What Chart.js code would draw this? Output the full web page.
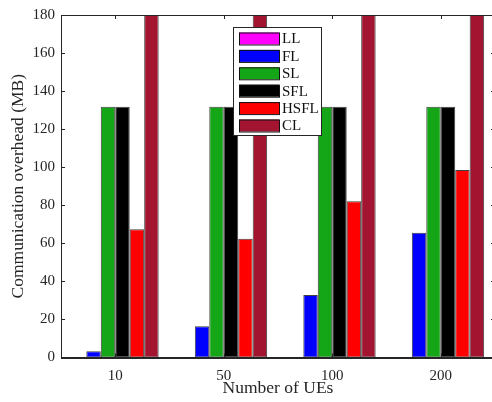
<!DOCTYPE html>
<html>
<head>
<meta charset="utf-8">
<script src="https://cdn.jsdelivr.net/npm/chart.js@4.4.1/dist/chart.umd.min.js"></script>
<style>
  html, body { margin: 0; padding: 0; background: #fff; }
  #wrap { width: 492px; height: 402px; overflow: hidden; }
</style>
</head>
<body>
<!-- canvas runs a few px past the right edge so the frame's right side is cut off -->
<div id="wrap"><canvas id="overheadChart" width="496" height="402"></canvas></div>
<script>
const ues = ["10", "50", "100", "200"];

const llData = [0.2, 0.2, 0.2, 0.2];
const flData = [3.3, 16.4, 32.8, 65.6];
const slData = [131.8, 131.8, 131.8, 131.8];
const sflData = [131.8, 131.8, 131.8, 131.8];
const hsflData = [67.4, 62.4, 82.1, 98.6];
const clData = [200, 200, 200, 200];

const serif = "'Liberation Serif', 'Times New Roman', serif";
const axisColor = "#262626";

// inward tick marks on all four sides plus the box frame
const boxTicks = {
  id: "boxTicks",
  afterDatasetsDraw(chart) {
    const { ctx, chartArea: a, scales } = chart;
    const len = 4;
    ctx.save();
    ctx.strokeStyle = axisColor;
    ctx.lineWidth = 1;
    ctx.beginPath();
    scales.y.ticks.forEach((t) => {
      const y = Math.round(scales.y.getPixelForValue(t.value)) + 0.5;
      ctx.moveTo(a.left, y);
      ctx.lineTo(a.left + len, y);
      ctx.moveTo(a.right, y);
      ctx.lineTo(a.right - len, y);
    });
    ues.forEach((_, i) => {
      const x = Math.round(scales.x.getPixelForTick(i)) + 0.5;
      ctx.moveTo(x, a.top);
      ctx.lineTo(x, a.top + len);
      ctx.moveTo(x, a.bottom);
      ctx.lineTo(x, a.bottom - len);
    });
    ctx.stroke();
    ctx.strokeRect(Math.round(a.left) + 0.5, Math.round(a.top) + 0.5,
      Math.round(a.right - a.left), Math.round(a.bottom - a.top));
    ctx.restore();
  },
};

// legend box sitting inside the plot
const boxLegend = {
  id: "boxLegend",
  afterDraw(chart, args, opts) {
    const { ctx } = chart;
    const sets = chart.data.datasets;
    ctx.save();
    ctx.fillStyle = "#fff";
    ctx.fillRect(opts.x, opts.y, opts.w, opts.h);
    ctx.strokeStyle = axisColor;
    ctx.lineWidth = 1;
    ctx.strokeRect(opts.x + 0.5, opts.y + 0.5, opts.w, opts.h);
    ctx.font = "15px " + serif;
    ctx.textBaseline = "middle";
    sets.forEach((ds, i) => {
      const cy = opts.y + opts.first + i * opts.step;
      ctx.fillStyle = ds.backgroundColor;
      ctx.fillRect(opts.x + 6, cy - 6, 40, 12);
      ctx.strokeStyle = "#111";
      ctx.strokeRect(opts.x + 6.5, cy - 5.5, 40, 12);
      ctx.fillStyle = "#111";
      ctx.fillText(ds.label, opts.x + 49, cy + 1);
    });
    ctx.restore();
  },
};

function barSet(label, data, color) {
  return {
    label: label,
    data: data,
    backgroundColor: color,
    borderColor: "rgba(30,30,30,0.85)",
    borderWidth: 1,
    borderSkipped: false,
    categoryPercentage: 0.8,
    barPercentage: 1.0,
  };
}

const chart = new Chart(document.getElementById("overheadChart"), {
  type: "bar",
  data: {
    labels: ues,
    datasets: [
      barSet("LL", llData, "#FF00FF"),
      barSet("FL", flData, "#0000FF"),
      barSet("SL", slData, "#15A617"),
      barSet("SFL", sflData, "#000000"),
      barSet("HSFL", hsflData, "#FF0000"),
      barSet("CL", clData, "#A2142F"),
    ],
  },
  options: {
    responsive: false,
    animation: false,
    layout: { padding: { top: 15, right: 1, left: 0, bottom: 0 } },
    plugins: {
      legend: { display: false },
      tooltip: { enabled: false },
      boxLegend: { x: 233, y: 27, w: 88, h: 108, first: 11.5, step: 17.4 },
    },
    scales: {
      x: {
        grid: { display: false, drawTicks: false },
        border: { display: true, color: axisColor },
        ticks: { color: axisColor, font: { family: serif, size: 15 }, padding: 10 },
        title: {
          display: true,
          text: "Number of UEs",
          color: axisColor,
          font: { family: serif, size: 17.5 },
          padding: { top: 0, bottom: 3 },
        },
        afterFit(scale) {
          scale.height = 44.5;
        },
      },
      y: {
        min: 0,
        max: 180,
        grid: { display: false, drawTicks: false },
        border: { display: true, color: axisColor },
        ticks: { stepSize: 20, color: axisColor, font: { family: serif, size: 15 }, padding: 6 },
        title: {
          display: true,
          text: "Communication overhead (MB)",
          color: axisColor,
          font: { family: serif, size: 17.5 },
          padding: { top: 8, bottom: 0 },
        },
        afterFit(scale) {
          scale.width = 61;
        },
      },
    },
  },
  plugins: [boxTicks, boxLegend],
});
</script>
</body>
</html>
